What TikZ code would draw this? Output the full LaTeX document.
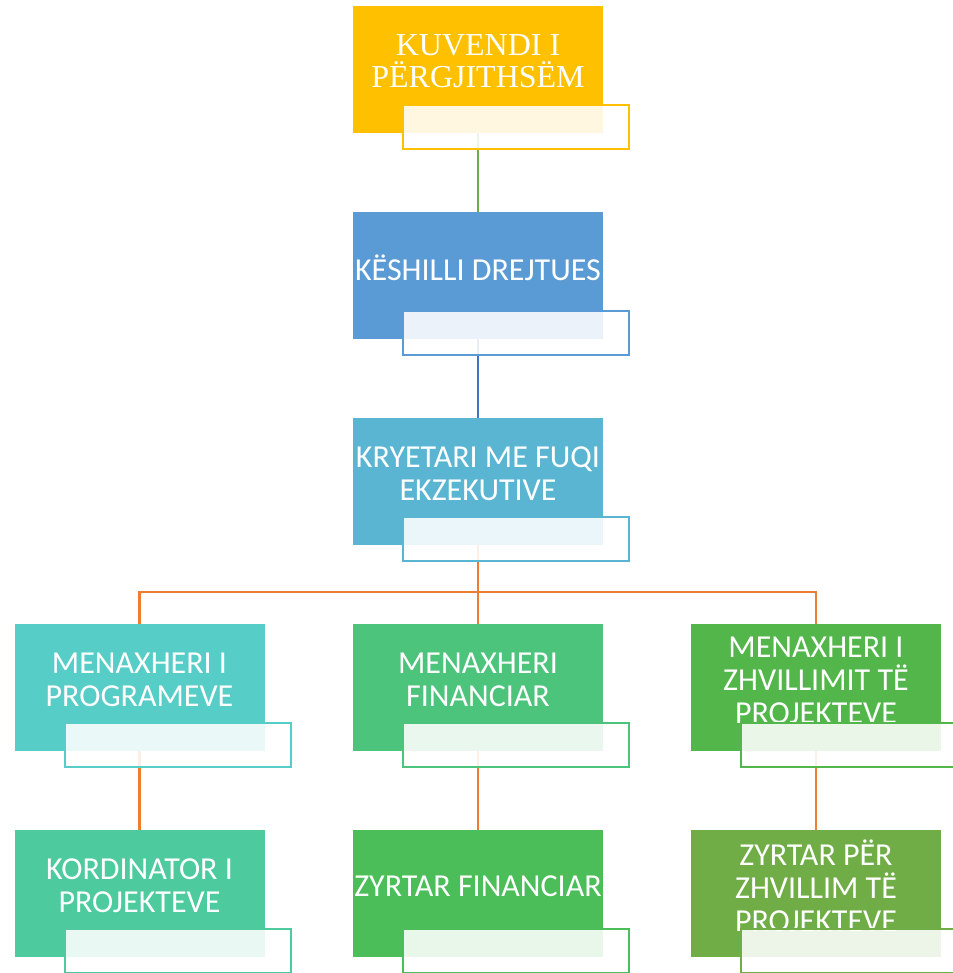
\documentclass[tikz,border=0pt]{standalone}
\usepackage{fontspec}
\setmainfont{Carlito}
\newfontfamily\timesfont{Liberation Serif}
\usepackage{xcolor}
\usepackage{tikz}
\usetikzlibrary{backgrounds}

\definecolor{kuvendi}{HTML}{FFC000}
\definecolor{keshilli}{HTML}{5B9BD5}
\definecolor{kryetari}{HTML}{5AB5D2}
\definecolor{programe}{HTML}{56CDC7}
\definecolor{financa}{HTML}{4DC47C}
\definecolor{zhvillim}{HTML}{53B64A}
\definecolor{kordinator}{HTML}{4DCB9E}
\definecolor{zyrtarfin}{HTML}{4BBE59}
\definecolor{zyrtarzhv}{HTML}{70AD47}
\definecolor{greenline}{HTML}{70AD47}
\definecolor{blueline}{HTML}{4472C4}
\definecolor{orangeline}{HTML}{ED7D31}

\begin{document}
\begin{tikzpicture}[x=1pt,y=-1pt,
    mainbox/.style={minimum width=250pt,minimum height=127pt,inner sep=0pt,outer sep=0pt},
    subbox/.style={draw=#1,line width=2pt,fill=white,fill opacity=0.88,minimum width=226pt,minimum height=44pt,inner sep=0pt},
    boxtext/.style={text=white,align=center,font=\fontsize{32}{33}\selectfont},
    link/.style={line width=2.2pt,draw=#1}]
    \useasboundingbox (0,0) rectangle (952,973);

    % main boxes
    \node[mainbox,fill=kuvendi] (kuvendi) at (478,69.5) {};
    \node[mainbox,fill=keshilli] (keshilli) at (478,275.5) {};
    \node[mainbox,fill=kryetari] (kryetari) at (478,481.5) {};
    \node[mainbox,fill=programe] (programe) at (139.5,687.5) {};
    \node[mainbox,fill=financa] (financa) at (478,687.5) {};
    \node[mainbox,fill=zhvillim] (zhvillim) at (816,687.5) {};
    \node[mainbox,fill=kordinator] (kordinator) at (139.5,893.5) {};
    \node[mainbox,fill=zyrtarfin] (zyrtarfin) at (478,893.5) {};
    \node[mainbox,fill=zyrtarzhv] (zyrtarzhv) at (816,893.5) {};

    % texts
    \node[boxtext,font=\timesfont\fontsize{32}{32}\selectfont] (kuvenditxt) at ([yshift=-55pt]kuvendi.north) {KUVENDI I\\PËRGJITHSËM};
    \node[boxtext] (keshillitxt) at ([yshift=-56pt]keshilli.north) {KËSHILLI DREJTUES};
    \node[boxtext] (kryetaritxt) at ([yshift=-56pt]kryetari.north) {KRYETARI ME FUQI\\EKZEKUTIVE};
    \node[boxtext] (programetxt) at ([yshift=-56pt]programe.north) {MENAXHERI I\\PROGRAMEVE};
    \node[boxtext] (financatxt) at ([yshift=-56pt]financa.north) {MENAXHERI\\FINANCIAR};
    \node[boxtext] (zhvillimtxt) at ([yshift=-56pt]zhvillim.north) {MENAXHERI I\\ZHVILLIMIT TË\\PROJEKTEVE};
    \node[boxtext] (kordinatortxt) at ([yshift=-56pt]kordinator.north) {KORDINATOR I\\PROJEKTEVE};
    \node[boxtext] (zyrtarfintxt) at ([yshift=-56pt]zyrtarfin.north) {ZYRTAR FINANCIAR};
    \node[boxtext] (zyrtarzhvtxt) at ([yshift=-56pt]zyrtarzhv.north) {ZYRTAR PËR\\ZHVILLIM TË\\PROJEKTEVE};

    % lower boxes
    \foreach \n in {kuvendi,keshilli,kryetari,programe,financa,zhvillim,kordinator,zyrtarfin,zyrtarzhv}
    \node[subbox=\n] (\n sub) at ([xshift=38pt,yshift=6pt]\n.south) {};

    % connectors
    \begin{pgfonlayer}{background}
    \draw[link=greenline] (kuvendi.south) -- (keshilli.north);
    \draw[link=blueline] (keshilli.south) -- (kryetari.north);
    \foreach \n in {programe,financa,zhvillim}
    \draw[link=orangeline] (kryetari.south) |- ([yshift=32pt]\n.north) -- (\n.north);
    \draw[link=orangeline] (programe.south) -- (kordinator.north);
    \draw[link=orangeline] (financa.south) -- (zyrtarfin.north);
    \draw[link=orangeline] (zhvillim.south) -- (zyrtarzhv.north);
    \end{pgfonlayer}
\end{tikzpicture}
\end{document}
